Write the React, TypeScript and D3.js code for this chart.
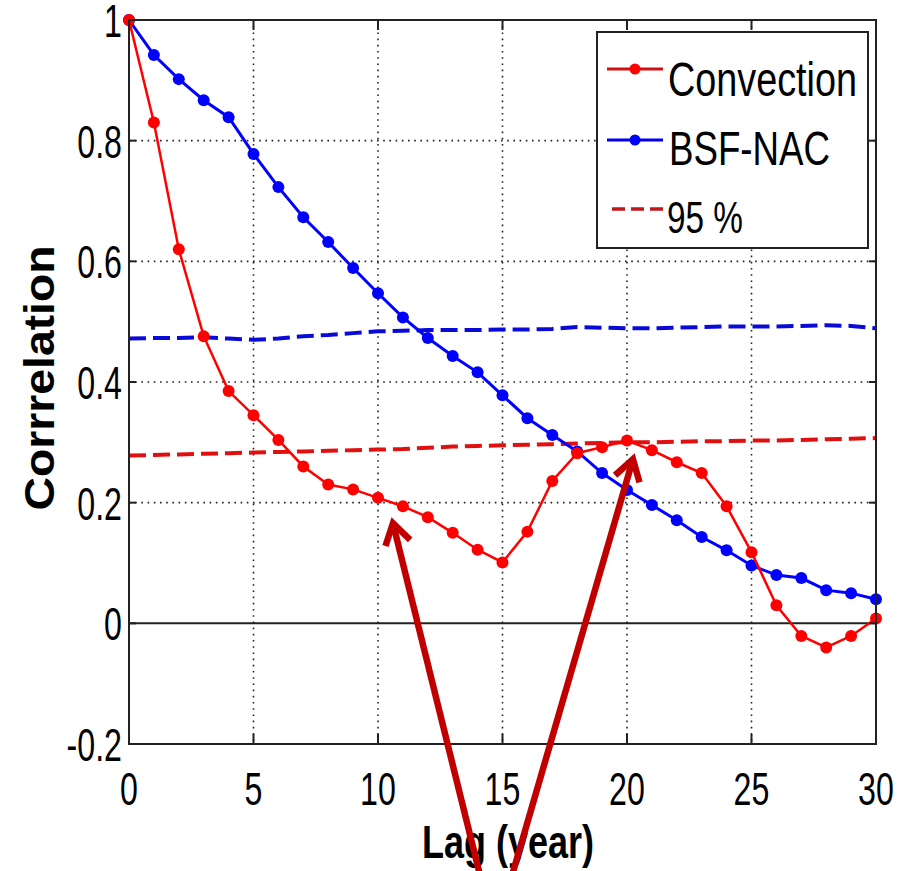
import React from "react";
import * as d3 from "d3";

const lags = d3.range(0, 31);
const convection = [1.0, 0.83, 0.62, 0.476, 0.385, 0.345, 0.304, 0.26, 0.23, 0.222, 0.208, 0.194, 0.176, 0.15, 0.122, 0.101, 0.152, 0.236, 0.282, 0.292, 0.303, 0.287, 0.267, 0.249, 0.194, 0.118, 0.03, -0.021, -0.04, -0.021, 0.008];
const bsfNac = [1.0, 0.942, 0.902, 0.867, 0.839, 0.778, 0.723, 0.673, 0.632, 0.589, 0.547, 0.507, 0.473, 0.443, 0.416, 0.378, 0.34, 0.312, 0.285, 0.249, 0.221, 0.196, 0.171, 0.143, 0.121, 0.096, 0.08, 0.075, 0.055, 0.05, 0.04];
const sigBsf = [0.472, 0.473, 0.473, 0.474, 0.472, 0.47, 0.472, 0.476, 0.478, 0.481, 0.484, 0.485, 0.486, 0.486, 0.486, 0.487, 0.487, 0.488, 0.491, 0.49, 0.489, 0.489, 0.49, 0.491, 0.492, 0.492, 0.492, 0.493, 0.494, 0.493, 0.489];
const sigConv = [0.278, 0.279, 0.28, 0.281, 0.282, 0.283, 0.284, 0.285, 0.286, 0.287, 0.288, 0.289, 0.291, 0.293, 0.294, 0.295, 0.296, 0.297, 0.298, 0.299, 0.3, 0.3, 0.301, 0.302, 0.302, 0.303, 0.303, 0.304, 0.305, 0.306, 0.307];
const xTicks = [0, 5, 10, 15, 20, 25, 30];
const yTicks = [-0.2, 0, 0.2, 0.4, 0.6, 0.8, 1];
const yTickLabels = ["-0.2", "0", "0.2", "0.4", "0.6", "0.8", "1"];
const legendLabels = ["Convection", "BSF-NAC", "95 %"];
// annotation arrows in data coordinates: [baseLag, baseCorr, tipLag, tipCorr]
const arrows = [
  [14.34, -0.458, 10.6, 0.166],
  [15.1, -0.458, 20.24, 0.272],
];

const W = 909;
const H = 871;
const L = 129, R = 876, T = 20, B = 744;
const FONT = "'Liberation Sans', Arial, sans-serif";

export default function App() {
  const x = d3.scaleLinear().domain([0, 30]).range([L, R]);
  const y = d3.scaleLinear().domain([-0.2, 1]).range([B, T]);
  const line = (vals: number[]) =>
    d3.line<number>().x((_, i) => x(lags[i])).y((v) => y(v))(vals) || "";

  const arrowPaths = arrows.map(([bx, by, tx, ty]) => {
    const x0 = x(bx), y0 = y(by), x1 = x(tx), y1 = y(ty);
    const ang = Math.atan2(y0 - y1, x0 - x1);
    const len = 24, spread = (32 * Math.PI) / 180;
    const a1 = [x1 + len * Math.cos(ang + spread), y1 + len * Math.sin(ang + spread)];
    const a2 = [x1 + len * Math.cos(ang - spread), y1 + len * Math.sin(ang - spread)];
    return {
      shaft: `M${x0},${y0}L${x1},${y1}`,
      head: `M${a1[0]},${a1[1]}L${x1},${y1}L${a2[0]},${a2[1]}`,
    };
  });

  return (
    <svg width={W} height={H} style={{ position: "absolute", left: 0, top: 0, background: "#fff" }}>
      <rect x={0} y={0} width={W} height={H} fill="#fff" />
      {/* grid */}
      {xTicks.filter((t) => t > 0 && t < 30).map((t) => (
        <line key={"gx" + t} x1={x(t)} x2={x(t)} y1={T} y2={B} stroke="#222" strokeWidth={1.6} strokeDasharray="1.6,4.6" />
      ))}
      {yTicks.filter((t) => t > 0.01 && t < 0.99).map((t) => (
        <line key={"gy" + t} x1={L} x2={R} y1={y(t)} y2={y(t)} stroke="#222" strokeWidth={1.6} strokeDasharray="1.6,4.6" />
      ))}
      {/* zero line */}
      <line x1={L} x2={R} y1={y(0)} y2={y(0)} stroke="#222" strokeWidth={2} />
      {/* significance lines */}
      <path d={line(sigBsf)} fill="none" stroke="#0a0ad8" strokeWidth={4} strokeDasharray="17,7" />
      <path d={line(sigConv)} fill="none" stroke="#e01010" strokeWidth={4} strokeDasharray="17,7" />
      {/* series */}
      <path d={line(bsfNac)} fill="none" stroke="#0000ff" strokeWidth={3} />
      {bsfNac.map((v, i) => (
        <circle key={"b" + i} cx={x(lags[i])} cy={y(v)} r={6} fill="#0000ff" />
      ))}
      <path d={line(convection)} fill="none" stroke="#ff0000" strokeWidth={2.5} />
      {convection.map((v, i) => (
        <circle key={"c" + i} cx={x(lags[i])} cy={y(v)} r={6} fill="#ff0000" />
      ))}
      {/* axes box */}
      <rect x={L} y={T} width={R - L} height={B - T} fill="none" stroke="#222" strokeWidth={2} />
      {xTicks.map((t) => (
        <g key={"xt" + t}>
          <line x1={x(t)} x2={x(t)} y1={B} y2={B - 10} stroke="#222" strokeWidth={2} />
          <line x1={x(t)} x2={x(t)} y1={T} y2={T + 10} stroke="#222" strokeWidth={2} />
          <g transform={`translate(${x(t)},805) scale(0.7,1)`}>
            <text textAnchor="middle" fontFamily={FONT} fontSize={46} fill="#000">{t}</text>
          </g>
        </g>
      ))}
      {yTicks.map((t, i) => (
        <g key={"yt" + t}>
          <line x1={L} x2={L + 7} y1={y(t)} y2={y(t)} stroke="#222" strokeWidth={2} />
          <line x1={R} x2={R - 7} y1={y(t)} y2={y(t)} stroke="#222" strokeWidth={2} />
          <g transform={`translate(122,${y(t) + 17}) scale(0.7,1)`}>
            <text textAnchor="end" fontFamily={FONT} fontSize={46} fill="#000">{yTickLabels[i]}</text>
          </g>
        </g>
      ))}
      {/* axis labels */}
      <text x={508} y={858} textAnchor="middle" fontFamily={FONT} fontWeight="bold" fontSize={46}
        textLength={172} lengthAdjust="spacingAndGlyphs" fill="#000">Lag (year)</text>
      <text transform="translate(54,378) rotate(-90)" textAnchor="middle" fontFamily={FONT} fontWeight="bold" fontSize={42}
        textLength={265} lengthAdjust="spacingAndGlyphs" fill="#000">Corrrelation</text>
      {/* legend */}
      <rect x={597} y={32} width={271} height={216} fill="#fff" stroke="#222" strokeWidth={2} />
      <line x1={607} x2={663} y1={69} y2={69} stroke="#d01010" strokeWidth={3} />
      <circle cx={635} cy={69} r={5.5} fill="#ff0000" />
      <line x1={607} x2={663} y1={140} y2={140} stroke="#0000ee" strokeWidth={3} />
      <circle cx={635} cy={140} r={5.5} fill="#0000ff" />
      <line x1={612} x2={663} y1={209} y2={209} stroke="#c01818" strokeWidth={3.5} strokeDasharray="13,6" />
      <text x={668} y={96} fontFamily={FONT} fontSize={48} textLength={189} lengthAdjust="spacingAndGlyphs" fill="#000">{legendLabels[0]}</text>
      <text x={669} y={165} fontFamily={FONT} fontSize={48} textLength={161} lengthAdjust="spacingAndGlyphs" fill="#000">{legendLabels[1]}</text>
      <text x={667} y={233} fontFamily={FONT} fontSize={44} textLength={76} lengthAdjust="spacingAndGlyphs" fill="#000">{legendLabels[2]}</text>
      {/* annotation arrows */}
      {arrowPaths.map((a, i) => (
        <g key={"ar" + i} fill="none" stroke="#c00000" strokeWidth={6.5} strokeLinecap="butt" strokeLinejoin="miter">
          <path d={a.shaft} />
          <path d={a.head} />
        </g>
      ))}
    </svg>
  );
}
